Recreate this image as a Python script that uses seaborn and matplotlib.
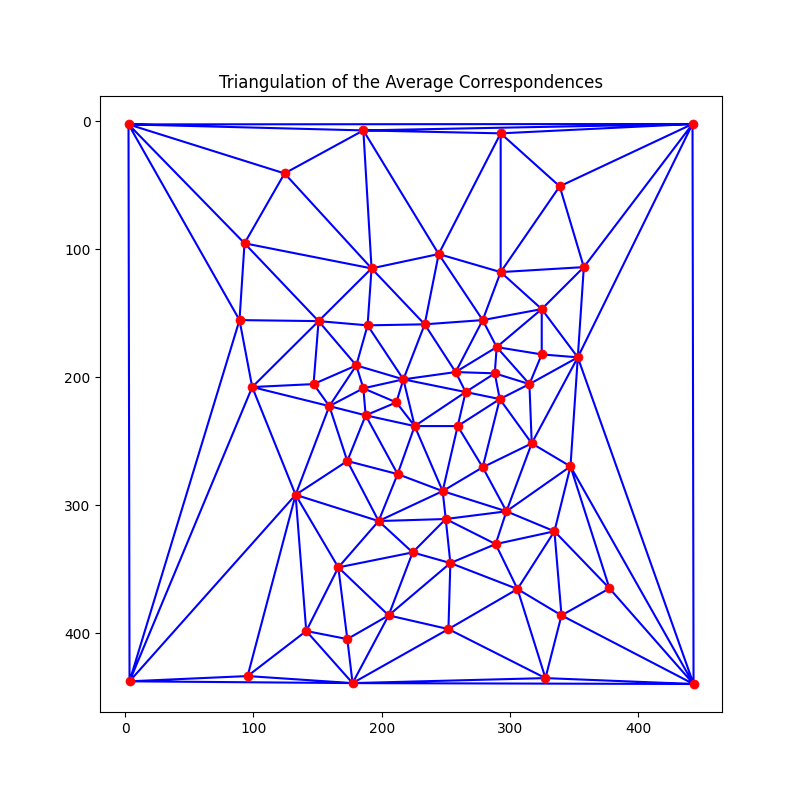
import numpy as np
import matplotlib
matplotlib.use("Agg")
import matplotlib.pyplot as plt
import matplotlib.tri as mtri
import seaborn as sns

# average correspondence points (x, y)
xs = [2.6, 185.6, 124.2, 93.0, 192.0, 89.1, 150.7, 188.9, 180.1, 216.8,
      99.0, 146.8, 185.6, 211.3, 159.1, 442.1, 292.6, 338.6, 244.3, 292.6,
      357.4, 324.6, 233.4, 278.6, 289.5, 324.6, 352.7, 257.5, 288.0, 315.0,
      265.3, 291.9, 187.4, 225.6, 173.1, 212.3, 132.8, 197.5, 224.0, 166.1,
      205.3, 141.1, 173.1, 95.4, 3.4, 177.2, 259.1, 316.8, 347.0, 278.6,
      247.4, 297.1, 249.8, 334.5, 288.7, 253.4, 377.4, 305.7, 340.0, 251.9,
      327.5, 442.9]
ys = [2.6, 7.3, 40.9, 95.5, 115.1, 155.5, 156.3, 159.6, 190.9, 201.8,
      207.8, 205.5, 208.8, 219.8, 222.7, 2.3, 9.6, 51.0, 103.9, 118.0,
      114.1, 146.9, 158.8, 155.5, 176.6, 182.3, 184.6, 196.1, 197.1, 205.5,
      211.7, 217.2, 229.9, 238.3, 265.6, 275.8, 292.0, 312.5, 337.0, 348.7,
      386.2, 398.4, 404.7, 433.6, 437.7, 439.1, 238.3, 251.8, 269.8, 270.5,
      289.1, 304.9, 310.9, 320.5, 330.5, 345.3, 365.1, 365.6, 386.2, 396.9,
      435.2, 439.8]

x = np.array(xs)
y = np.array(ys)
tri = mtri.Triangulation(x, y)

fig, ax = plt.subplots(figsize=(8.02, 8.0), dpi=100)
ax.triplot(tri, 'b-', lw=1.5)
sns.scatterplot(x=x, y=y, ax=ax, color='red', s=42, edgecolor='red',
                linewidth=0.5, zorder=3)
ax.invert_yaxis()
ax.set_title('Triangulation of the Average Correspondences')

fig.savefig('out.png', dpi=100)
